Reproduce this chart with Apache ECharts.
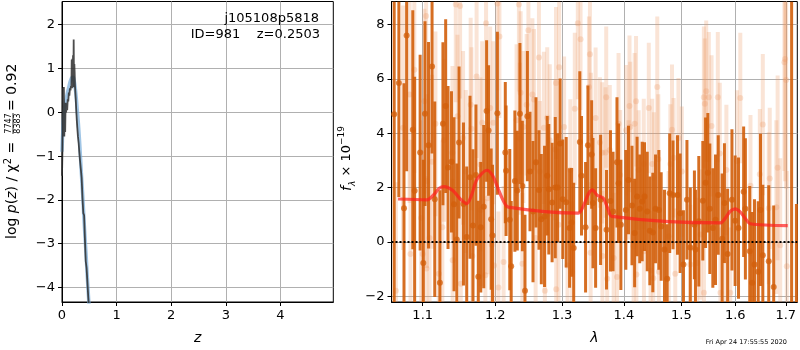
<!DOCTYPE html>
<html><head><meta charset="utf-8">
<script src="https://cdn.jsdelivr.net/npm/echarts@6/dist/echarts.min.js"></script>
<style>html,body{margin:0;padding:0;background:#fff}#c{width:800px;height:350px}</style>
</head><body><div id="c"></div>
<script>
// ---------- tick labels ----------
const zTicks = [0, 1, 2, 3, 4];
const logpTicks = [-4, -3, -2, -1, 0, 1, 2];
const lamTicks = [1.1, 1.2, 1.3, 1.4, 1.5, 1.6, 1.7];
const fluxTicks = [-2, 0, 2, 4, 6, 8];

// ---------- left panel: p(z) ----------
const zGrid = [0.0,0.008,0.018,0.026,0.034,0.042,0.05,0.058,0.066,0.075,0.085,0.095,0.105,0.115,0.125,0.135,0.145,0.155,0.165,0.172,0.178,0.184,0.19,0.196,0.202,0.208,0.214,0.22,0.226,0.232,0.238,0.245,0.252,0.26,0.27,0.28,0.292,0.305,0.318,0.33,0.345,0.36,0.375,0.39,0.405,0.42,0.435,0.45,0.465,0.48,0.495,0.51];
const logpGrid = [-1.45,-0.9,0.56,-0.3,0.58,-0.55,0.1,-0.45,0.22,0.0,0.18,0.05,0.3,0.25,0.45,0.38,0.55,0.5,0.6,0.55,1.2,0.55,1.22,0.6,1.3,0.58,1.66,0.57,1.1,0.9,0.6,0.45,0.3,0.07,-0.16,-0.35,-0.55,-0.7,-0.92,-1.1,-1.3,-1.5,-1.95,-2.3,-2.35,-2.9,-3.4,-3.55,-3.87,-4.2,-4.45,-4.7];
const zFit = [0.0,0.02,0.04,0.06,0.08,0.1,0.12,0.14,0.16,0.18,0.2,0.22,0.24,0.26,0.28,0.3,0.32,0.34,0.36,0.38,0.4,0.42,0.44,0.46,0.48,0.5,0.52];
const logpFit = [-0.9,-0.3,0.02,0.2,0.33,0.45,0.55,0.66,0.74,0.79,0.8,0.74,0.58,0.35,0.05,-0.25,-0.62,-1.05,-1.5,-1.9,-2.38,-2.81,-3.22,-3.68,-4.1,-4.5,-4.9];

// ---------- right panel: spectrum ----------
const lamDark = [1.063,1.069,1.0756,1.079,1.087,1.0894,1.0966,1.1008,1.103,1.1077,1.1124,1.116,1.1229,1.127,1.1307,1.1339,1.1386,1.1421,1.1459,1.149,1.1551,1.1596,1.1642,1.1683,1.1725,1.1758,1.1793,1.1835,1.1876,1.1904,1.1941,1.196,1.203,1.2145,1.2156,1.221,1.2231,1.2285,1.2321,1.236,1.2396,1.2435,1.2471,1.251,1.2555,1.26,1.2645,1.2681,1.273,1.2771,1.2795,1.2846,1.2895,1.293,1.297,1.3011,1.3065,1.3118,1.315,1.3183,1.328,1.3307,1.3372,1.341,1.347,1.3491,1.3534,1.3615,1.3712,1.3777,1.382,1.3885,1.3911,1.395,1.4033,1.4078,1.4137,1.4182,1.4224,1.4269,1.4311,1.4351,1.4398,1.4443,1.4495,1.4542,1.46,1.4641,1.4699,1.4746,1.4791,1.485,1.493,1.4977,1.5037,1.51,1.5161,1.5236,1.5255,1.5316,1.539,1.5441,1.5483,1.552,1.5576,1.5626,1.5677,1.5751,1.5794,1.5855,1.5937,1.5998,1.6063,1.6162,1.6196,1.6281,1.6328,1.6374,1.6447,1.6492,1.6538,1.6656,1.6755,1.7119,1.7218];
const fluxDark = [4.70,5.85,1.24,7.60,4.13,1.88,3.29,-0.77,4.72,3.56,6.46,1.57,-1.50,4.35,5.00,2.74,2.95,1.39,0.09,3.66,1.40,0.18,2.38,0.61,2.46,-1.28,0.54,1.30,4.82,4.10,0.84,0.24,4.74,3.29,2.62,0.82,-0.89,2.24,1.89,4.72,2.06,-1.80,4.63,2.59,1.12,2.93,1.91,0.84,0.94,2.44,1.94,1.45,2.00,2.00,3.62,1.57,1.46,0.51,0.72,-0.22,3.68,2.44,0.54,3.56,3.22,1.43,0.51,1.55,0.45,1.51,1.12,2.93,2.16,0.63,1.18,2.28,1.34,0.33,1.67,1.22,1.49,1.67,1.12,0.41,0.35,1.22,1.18,0.57,-0.28,-1.35,1.79,1.73,1.73,1.06,-0.83,1.55,-0.20,0.63,-0.28,0.76,1.52,2.18,2.55,1.22,0.51,0.82,1.73,0.12,1.43,-0.44,1.55,0.78,0.51,1.85,1.22,-0.34,-1.50,-0.83,-1.10,1.18,-0.49,-0.71,-1.66,10.0,-3.5];
const errDark = [7.5,4.2,4.6,5.0,4.4,4.2,3.6,3.8,3.4,3.8,3.2,3.6,3.4,3.0,3.2,3.0,2.6,3.2,2.8,2.8,3.0,2.6,3.0,2.8,2.6,2.8,2.4,3.0,2.6,2.4,2.6,2.6,3.0,2.6,2.4,2.6,2.4,2.6,2.2,2.6,2.4,2.8,2.4,2.2,2.6,2.4,2.2,2.4,2.6,2.2,2.4,2.2,2.6,2.0,2.4,2.2,2.4,2.2,2.0,2.4,2.6,2.2,2.4,2.2,2.0,2.4,2.2,2.4,2.2,2.6,2.2,2.4,2.2,2.4,2.2,2.0,2.2,2.0,2.2,2.0,2.2,2.0,2.2,2.0,2.2,2.0,2.2,2.0,2.2,2.0,2.2,2.0,2.2,2.2,2.0,2.2,2.2,2.0,2.2,2.4,2.2,2.4,2.2,2.4,2.2,2.4,2.2,2.4,2.2,2.4,2.6,2.4,2.6,2.4,2.6,2.4,2.6,2.4,2.6,2.8,2.6,2.8,3.0,13.0,4.9];

const lamLight = [1.0652,1.0743,1.0828,1.084,1.089,1.0979,1.1,1.1022,1.1045,1.1049,1.1055,1.1091,1.1124,1.1169,1.1215,1.1262,1.1284,1.1399,1.1402,1.1445,1.1468,1.1504,1.1514,1.1545,1.1583,1.1651,1.1661,1.1675,1.1734,1.1789,1.1792,1.1813,1.1858,1.1868,1.189,1.1927,1.195,1.1972,1.1982,1.203,1.2045,1.206,1.212,1.231,1.2345,1.236,1.237,1.2396,1.2411,1.246,1.2486,1.2546,1.257,1.2595,1.2645,1.266,1.272,1.2735,1.2771,1.281,1.2895,1.2906,1.2909,1.2945,1.2955,1.3032,1.3086,1.313,1.3157,1.32,1.3248,1.3292,1.3426,1.3442,1.3453,1.3458,1.3534,1.3604,1.3642,1.3645,1.3696,1.3707,1.3723,1.3766,1.383,1.3885,1.3911,1.3939,1.4038,1.4078,1.4095,1.4107,1.4165,1.4182,1.4206,1.4212,1.4251,1.4338,1.4341,1.4425,1.4455,1.4485,1.4503,1.4513,1.4572,1.459,1.46,1.4773,1.4803,1.4832,1.486,1.489,1.4947,1.5007,1.5161,1.5286,1.5347,1.5409,1.5411,1.5427,1.5453,1.5501,1.5552,1.5669,1.5706,1.5719,1.5812,1.5831,1.5905,1.6032,1.6097,1.6295,1.6479,1.6538,1.6656,1.6676,1.6808,1.6834,1.6887,1.6972,1.6986,1.7006,1.702];
const fluxLight = [-1.80,4.20,5.43,-0.44,6.34,0.88,-0.44,5.18,8.32,-0.98,2.24,0.15,2.95,4.35,-1.17,0.54,3.74,3.28,-0.67,8.74,4.63,8.68,-1.54,3.83,2.59,5.05,4.17,-0.52,6.09,2.85,1.18,4.39,-1.23,8.05,1.61,4.93,-0.10,4.39,-0.87,8.78,-1.68,7.56,-0.74,4.48,8.74,3.80,5.49,-0.80,4.23,5.05,7.79,5.43,5.24,0.15,6.79,2.59,4.20,-1.80,4.57,3.74,3.40,5.85,-1.74,0.63,6.43,4.23,-0.87,2.65,-1.11,4.90,8.05,7.46,5.70,6.91,-0.40,3.83,4.56,3.66,3.28,-0.52,3.29,5.33,-1.35,3.38,-0.59,-1.29,4.35,2.46,4.11,2.28,5.00,4.23,-0.16,4.35,5.18,-1.20,2.65,2.87,-0.34,4.93,-1.05,2.87,-1.34,2.37,5.70,3.04,-1.10,0.21,2.87,4.13,3.10,-1.17,3.83,2.59,-0.83,-0.77,0.27,5.33,-1.87,5.09,5.55,5.33,4.27,5.33,3.26,-1.87,-0.68,2.65,-1.87,2.98,5.30,2.07,2.49,4.32,1.24,2.34,1.28,2.73,-0.12,6.61,6.73,5.96,-0.89];
const errLight = [4.0,4.5,4.0,4.2,3.8,3.6,3.8,3.4,3.6,3.4,3.2,3.6,3.2,3.4,3.0,3.2,3.0,3.2,3.0,3.6,3.0,3.4,3.0,3.2,3.0,3.2,3.0,2.8,3.0,3.2,2.8,3.0,2.8,3.2,2.8,3.0,2.8,3.0,2.8,3.2,2.8,3.0,2.8,2.8,3.2,2.8,3.0,2.6,2.8,2.6,3.0,2.8,2.6,2.8,2.8,2.6,2.8,2.6,2.6,2.8,2.6,2.8,2.6,2.8,2.6,2.6,2.8,2.6,2.6,2.8,2.8,2.6,2.6,2.8,2.6,2.4,2.6,2.4,2.6,2.4,2.4,2.6,2.4,2.4,2.4,2.4,2.6,2.4,2.4,2.2,2.6,2.4,2.4,2.6,2.4,2.4,2.2,2.4,2.2,2.4,2.2,2.4,2.2,2.4,2.6,2.4,2.2,2.4,2.2,2.4,2.2,2.4,2.2,2.4,2.2,2.4,2.4,2.6,2.4,2.4,2.6,2.4,2.6,2.4,2.6,2.4,2.6,2.4,2.4,2.6,2.4,2.6,2.4,2.6,2.8,2.6,3.2,3.4,3.2,4.0,4.5,4.0,3.5];

const lamModel = [1.068,1.1053,1.115,1.122,1.1285,1.14,1.15,1.1596,1.166,1.1727,1.18,1.188,1.196,1.2035,1.212,1.219,1.3256,1.335,1.342,1.348,1.356,1.366,1.373,1.38,1.5715,1.58,1.59,1.6,1.61,1.62,1.629,1.704];
const fluxModel = [1.58,1.55,1.75,1.98,2.04,1.9,1.6,1.41,1.7,2.24,2.5,2.64,2.45,2.0,1.5,1.28,1.06,1.4,1.78,1.92,1.72,1.61,1.25,0.94,0.70,0.85,1.12,1.22,1.1,0.85,0.67,0.60];

// ---------- axis ranges ----------
const X0MIN = 0, X0MAX = 4.97, Y0MIN = -4.33, Y0MAX = 2.53;
const X1MIN = Math.log10(1.0596), X1MAX = Math.log10(1.7236), Y1MIN = -2.21, Y1MAX = 8.85;

const FONT = 'DejaVu Sans';
const chart = echarts.init(document.getElementById('c'), null, {renderer: 'canvas'});

function axisBase(extra) {
  return Object.assign({
    type: 'value',
    axisLine: {show: true, onZero: false, lineStyle: {color: '#000', width: 1}},
    axisTick: {show: true, inside: false, length: 4, lineStyle: {color: '#000', width: 1}},
    axisLabel: {color: '#000', fontFamily: FONT, fontSize: 13, margin: 7},
    splitLine: {show: true, lineStyle: {color: '#b0b0b0', width: 1}}
  }, extra);
}

function errSeries(lams, fl, er, color, w, z) {
  return {
    type: 'custom', xAxisIndex: 1, yAxisIndex: 1, clip: true, z: z, silent: true,
    data: lams.map((l, i) => [Math.log10(l), fl[i], er[i]]),
    encode: {x: 0, y: 1},
    renderItem(params, api) {
      const x = api.value(0), y = api.value(1), e = api.value(2);
      const top = Math.min(y + e, Y1MAX), bot = Math.max(y - e, Y1MIN);
      if (top <= bot) return null;
      const p1 = api.coord([x, top]), p2 = api.coord([x, bot]);
      return {type: 'rect', shape: {x: p1[0] - w / 2, y: p1[1], width: w, height: p2[1] - p1[1]}, style: {fill: color}};
    }
  };
}

const logCustom = lamTicks.map(v => Math.log10(v));

const option = {
  animation: false,
  backgroundColor: '#fff',
  grid: [
    {left: 62, top: 1.5, width: 271.3, height: 302.5, show: true, borderColor: '#000', borderWidth: 1, backgroundColor: 'transparent'},
    {left: 391.5, top: 1.5, width: 405.8, height: 302.5, show: true, borderColor: '#000', borderWidth: 1, backgroundColor: 'transparent'}
  ],
  xAxis: [
    axisBase({gridIndex: 0, min: X0MIN, max: X0MAX,
      axisTick: {show: true, length: 4, customValues: zTicks, lineStyle: {color: '#000'}},
      axisLabel: {color: '#000', fontFamily: FONT, fontSize: 13, margin: 7, customValues: zTicks},
      name: 'z', nameLocation: 'middle', nameGap: 29,
      nameTextStyle: {fontFamily: FONT, fontSize: 14, fontStyle: 'italic', color: '#000'}}),
    axisBase({gridIndex: 1, min: X1MIN, max: X1MAX,
      axisTick: {show: true, length: 4, customValues: logCustom, lineStyle: {color: '#000'}},
      axisLabel: {color: '#000', fontFamily: FONT, fontSize: 13, margin: 7, customValues: logCustom,
        formatter: v => Math.pow(10, v).toFixed(1)},
      name: 'λ', nameLocation: 'middle', nameGap: 29,
      nameTextStyle: {fontFamily: FONT, fontSize: 14, fontStyle: 'italic', color: '#000'}})
  ],
  yAxis: [
    axisBase({gridIndex: 0, min: Y0MIN, max: Y0MAX,
      axisTick: {show: true, length: 4, customValues: logpTicks, lineStyle: {color: '#000'}},
      axisLabel: {color: '#000', fontFamily: FONT, fontSize: 13, margin: 7, customValues: logpTicks,
        formatter: v => (v < 0 ? '\u2212' + Math.abs(v) : String(v))}}),
    axisBase({gridIndex: 1, min: Y1MIN, max: Y1MAX,
      axisTick: {show: true, length: 4, customValues: fluxTicks, lineStyle: {color: '#000'}},
      axisLabel: {color: '#000', fontFamily: FONT, fontSize: 13, margin: 7, customValues: fluxTicks,
        formatter: v => (v < 0 ? '\u2212' + Math.abs(v) : String(v))}})
  ],
  series: [
    {type: 'line', xAxisIndex: 0, yAxisIndex: 0, data: zFit.map((z, i) => [z, logpFit[i]]),
      showSymbol: false, symbol: 'none', clip: true, smooth: true, z: 3,
      lineStyle: {color: 'rgba(120,172,218,0.7)', width: 3.5}},
    {type: 'line', xAxisIndex: 0, yAxisIndex: 0, data: zGrid.map((z, i) => [z, logpGrid[i]]),
      showSymbol: false, symbol: 'none', clip: true, z: 4,
      lineStyle: {color: 'rgba(45,45,45,0.85)', width: 1.8}},
    errSeries(lamLight, fluxLight, errLight, 'rgba(236,150,95,0.26)', 4, 1),
    {type: 'scatter', xAxisIndex: 1, yAxisIndex: 1, z: 2, clip: true, symbolSize: 6,
      data: lamLight.map((l, i) => [Math.log10(l), fluxLight[i]]),
      itemStyle: {color: 'rgba(236,150,95,0.33)'}},
    errSeries(lamDark, fluxDark, errDark, 'rgba(210,94,10,0.9)', 3, 3),
    {type: 'scatter', xAxisIndex: 1, yAxisIndex: 1, z: 4, clip: true, symbolSize: 6,
      data: lamDark.map((l, i) => [Math.log10(l), fluxDark[i]]),
      itemStyle: {color: 'rgba(210,94,10,0.95)'}},
    {type: 'line', xAxisIndex: 1, yAxisIndex: 1, z: 6, clip: true, showSymbol: false, symbol: 'none', smooth: 0.3,
      data: lamModel.map((l, i) => [Math.log10(l), fluxModel[i]]),
      lineStyle: {color: 'rgba(255,30,30,0.7)', width: 3.2},
      markLine: {silent: true, symbol: 'none', label: {show: false},
        lineStyle: {color: '#000', type: [2, 2], width: 2}, data: [{yAxis: 0}]}}
  ],
  graphic: [
    {type: 'text', right: 800 - 319, top: 12, z: 100, style: {text: 'j105108p5818', font: '13px "DejaVu Sans"', fill: '#000', align: 'right'}},
    {type: 'text', right: 800 - 320, top: 28, z: 100, style: {text: 'ID=981    z=0.2503', font: '13px "DejaVu Sans"', fill: '#000', align: 'right'}},
    {type: 'group', x: 12, y: 239, rotation: Math.PI / 2, children: [
      {type: 'text', x: 0, y: 0, style: {
        text: '{n|log }{i|p}{n|(}{i|z}{n|) / χ}{s|2}{n| =}',
        rich: {n: {fontFamily: FONT, fontSize: 14, fill: '#000', lineHeight: 18},
               i: {fontFamily: FONT, fontSize: 14, fontStyle: 'italic', fill: '#000', lineHeight: 18},
               s: {fontFamily: FONT, fontSize: 10, fill: '#000', verticalAlign: 'top', lineHeight: 10}},
        verticalAlign: 'middle', align: 'left'}},
      {type: 'text', x: 115.5, y: -3.5, style: {text: '7747', font: '8px "DejaVu Sans"', fill: '#000', align: 'center', verticalAlign: 'middle'}},
      {type: 'line', shape: {x1: 105, y1: 1, x2: 126, y2: 1}, style: {stroke: '#000', lineWidth: 0.8}},
      {type: 'text', x: 115.5, y: 5.5, style: {text: '8383', font: '8px "DejaVu Sans"', fill: '#000', align: 'center', verticalAlign: 'middle'}},
      {type: 'text', x: 128, y: 0, style: {text: '= 0.92', font: '14px "DejaVu Sans"', fill: '#000', align: 'left', verticalAlign: 'middle'}}
    ]},
    {type: 'group', x: 347, y: 191, rotation: Math.PI / 2, children: [
      {type: 'text', x: 0, y: 0, style: {
        text: '{i|f}{b|λ}{n| × 10}{t|−19}',
        rich: {n: {fontFamily: FONT, fontSize: 13, fill: '#000', lineHeight: 20},
               i: {fontFamily: FONT, fontSize: 14, fontStyle: 'italic', fill: '#000', lineHeight: 20},
               b: {fontFamily: FONT, fontSize: 9, fontStyle: 'italic', fill: '#000', verticalAlign: 'bottom', lineHeight: 9},
               t: {fontFamily: FONT, fontSize: 9, fill: '#000', verticalAlign: 'top', lineHeight: 9}},
        verticalAlign: 'middle', align: 'left'}}
    ]},
    {type: 'text', right: 13, top: 339, style: {text: 'Fri Apr 24 17:55:55 2020', font: '6.5px "DejaVu Sans"', fill: '#000', align: 'right'}}
  ]
};
chart.setOption(option);
</script></body></html>
